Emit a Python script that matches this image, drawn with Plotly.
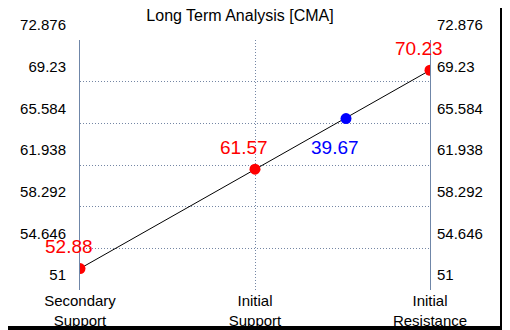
import plotly.graph_objects as go

# ---- data ----
categories = ["Secondary<br>Support", "Initial<br>Support", "Initial<br>Resistance"]
category_pos = [0, 1, 2]
level_values = [52.88, 61.57, 70.23]
level_labels = ["52.88", "61.57", "70.23"]
current_pos = [1.52]
current_value = [66.0]
current_labels = ["39.67"]
ytick_vals = [51, 54.646, 58.292, 61.938, 65.584, 69.23, 72.876]
ytick_text = ["51", "54.646", "58.292", "61.938", "65.584", "69.23", "72.876"]
title_text = "Long Term Analysis [CMA]"

FONT = "Liberation Sans, Arial, sans-serif"
GRID = "#7486a4"
AXIS = "#6f86a8"
# the page places the figure 8px from the window's top-left corner
OFF = 8
W, H = 510 - OFF, 330 - OFF
ML, MR, MT, MB = 80 - OFF, 80, 40 - OFF, 40
PW, PH = W - ML - MR, H - MT - MB

fig = go.Figure()
fig.add_trace(go.Scatter(
    x=category_pos, y=level_values, mode="lines+markers",
    line=dict(color="black", width=1),
    marker=dict(color="#ff0000", size=11),
    hoverinfo="skip", showlegend=False))
fig.add_trace(go.Scatter(
    x=current_pos, y=current_value, mode="markers",
    marker=dict(color="#0000ff", size=11),
    hoverinfo="skip", showlegend=False))
# invisible trace to activate right axis
fig.add_trace(go.Scatter(
    x=category_pos, y=level_values, yaxis="y2", mode="markers",
    marker=dict(opacity=0), hoverinfo="skip", showlegend=False))

for xv, yv, t in zip(category_pos, level_values, level_labels):
    fig.add_annotation(x=xv, y=yv, text=t, showarrow=False,
                       xshift=-11, yshift=22,
                       font=dict(family=FONT, size=19, color="#ff0000"))
for xv, yv, t in zip(current_pos, current_value, current_labels):
    fig.add_annotation(x=xv, y=yv, text=t, showarrow=False,
                       xshift=-11, yshift=-29,
                       font=dict(family=FONT, size=19, color="#0000ff"))

# black frame (right and bottom edges) around the image
def px_x(p):  # window pixel -> paper x
    return (p - OFF - ML) / PW
def px_y(p):  # window pixel -> paper y
    return (H - MB - (p - OFF)) / PH

fig.add_shape(type="rect", xref="paper", yref="paper",
              x0=px_x(0), x1=px_x(500), y0=px_y(326), y1=px_y(0),
              fillcolor="white", line=dict(width=0), layer="below")

yaxis_common = dict(
    range=[ytick_vals[0], ytick_vals[-1]], tickvals=ytick_vals, ticktext=ytick_text,
    tickfont=dict(family=FONT, size=15, color="black"),
    ticks="", ticklen=0, ticklabelshift=-15, showline=True, linecolor=AXIS, linewidth=1,
    zeroline=False, fixedrange=True, automargin=False)

fig.update_layout(
    width=W, height=H,
    margin=dict(l=ML, r=MR, t=MT, b=MB, pad=0, autoexpand=False),
    paper_bgcolor="black", plot_bgcolor="rgba(0,0,0,0)",
    title=dict(text=title_text, x=(240 - OFF) / W, xanchor="center", xref="container",
               y=1 - 1.5 / H, yanchor="top", yref="container",
               font=dict(family=FONT, size=16, color="black"), pad=dict(t=0, b=0)),
    xaxis=dict(range=[0, 2], tickvals=category_pos, ticktext=categories,
               tickfont=dict(family=FONT, size=15, color="black"),
               ticks="", ticklen=0, showgrid=True, gridcolor=GRID, griddash="1px,2px",
               gridwidth=1, showline=False, zeroline=False, ticklabelstandoff=0,
               fixedrange=True, automargin=False),
    yaxis=dict(**yaxis_common, side="left", showgrid=True, gridcolor=GRID,
               griddash="1px,2px", gridwidth=1, ticklabelstandoff=10),
    yaxis2=dict(**yaxis_common, side="right", overlaying="y", showgrid=False,
                ticklabelstandoff=3),
    font=dict(family=FONT),
)

fig.write_html("out.html")
